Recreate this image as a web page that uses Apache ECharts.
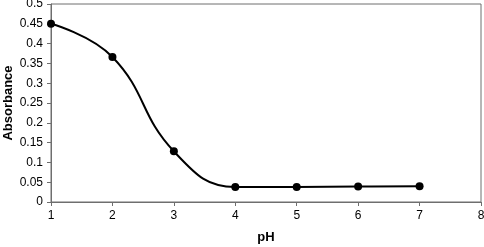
<!DOCTYPE html>
<html>
<head>
<meta charset="utf-8">
<script src="https://cdn.jsdelivr.net/npm/echarts@6/dist/echarts.min.js"></script>
<style>
  html, body { margin: 0; padding: 0; background: #fff; }
  #chart { width: 484px; height: 247px; }
</style>
</head>
<body>
<div id="chart"></div>
<script>
const phValues = [1, 2, 3, 4, 5, 6, 7]
const absorbance = [0.45, 0.366, 0.128, 0.038, 0.038, 0.039, 0.04]

const font = "'Liberation Sans', Arial, sans-serif"
const chart = echarts.init(document.getElementById('chart'))

const option = {
    animation: false,
    grid: {left: 51, right: 3, top: 4, bottom: 45, containLabel: false, outerBoundsMode: 'none',
        show: true, borderColor: '#6e6e6e', borderWidth: 1},
    xAxis: {
        type: 'value',
        min: 1, max: 8, interval: 1,
        name: 'pH', nameLocation: 'middle', nameGap: 29, nameMoveOverlap: false,
        nameTextStyle: {fontFamily: font, fontWeight: 'bold', fontSize: 13, color: '#000'},
        axisLine: {show: true, lineStyle: {color: '#6e6e6e'}},
        axisTick: {show: true, length: 4, lineStyle: {color: '#6e6e6e'}},
        axisLabel: {fontFamily: font, fontSize: 12, color: '#000', margin: 8},
        splitLine: {show: false}
    },
    yAxis: {
        type: 'value',
        min: 0, max: 0.5, interval: 0.05,
        name: 'Absorbance', nameLocation: 'middle', nameGap: 36, nameRotate: 90, nameMoveOverlap: false,
        nameTextStyle: {fontFamily: font, fontWeight: 'bold', fontSize: 13, color: '#000'},
        axisLine: {show: true, lineStyle: {color: '#6e6e6e'}},
        axisTick: {show: true, length: 4, lineStyle: {color: '#6e6e6e'}},
        axisLabel: {fontFamily: font, fontSize: 12, color: '#000', margin: 8,
            formatter: v => String(+v.toFixed(2))},
        splitLine: {show: false}
    },
    series: [{
        type: 'line',
        smooth: 0.45,
        data: phValues.map((x, i) => [x, absorbance[i]]),
        symbol: 'circle', symbolSize: 8,
        itemStyle: {color: '#000'},
        lineStyle: {color: '#000', width: 2}
    }]
}

chart.setOption(option)
</script>
</body>
</html>
